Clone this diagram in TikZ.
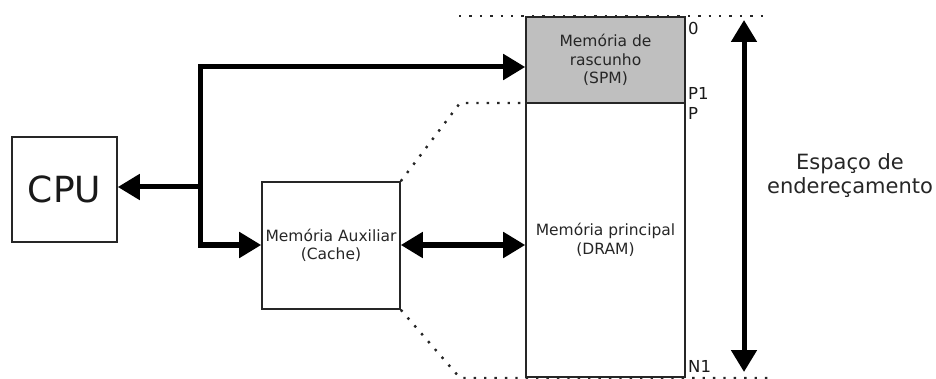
\documentclass[tikz,border=0pt]{standalone}
\usepackage{fontspec}
\setmainfont{DejaVu Sans}
\usetikzlibrary{arrows.meta,calc}
\begin{document}
\begin{tikzpicture}[x=1pt,y=-1pt,
  box/.style={draw=black!85,line width=1.6pt,inner sep=0pt,align=center,text=black!85},
  boxtext/.style={font=\fontsize{15.5}{18.5}\selectfont},
  tip/.tip={Triangle[length=22pt,width=25pt]},
  bus/.style={line width=5pt,-tip},
  dbus/.style={line width=5pt,tip-tip},
  dots/.style={line width=2.4pt,dash pattern=on 2.4pt off 8pt,black!85},
  addr/.style={font=\fontsize{16.5}{16.5}\selectfont,anchor=west,inner sep=0pt,text=black!90}
]
\useasboundingbox (0,0) rectangle (936,379);

% blocks
\node[box,minimum width=105pt,minimum height=105pt,font=\fontsize{36}{36}\selectfont,text=black!90] (cpu) at (64.5,189.5) {CPU};
\node[box,boxtext,minimum width=138pt,minimum height=127pt] (cache) at (331,245.5) {Memória Auxiliar\\(Cache)};
\node[box,boxtext,fill=black!25,minimum width=159pt,minimum height=86pt] (spm) at (605.5,60) {Memória de\\rascunho\\(SPM)};
\node[box,boxtext,minimum width=159pt,minimum height=274pt] (dram) at (605.5,240) {Memória principal\\(DRAM)};

% address labels
\node[addr] (a0) at (688,28) {0};
\node[addr] (ap1) at (688,93) {P1};
\node[addr] (ap) at (688,113) {P};
\node[addr] (an1) at (688,366) {N1};

% dotted guides
\coordinate (tl) at (459,16);
\coordinate (tr) at (770,16);
\coordinate (ml) at (460,103);
\coordinate (bl) at (460,378);
\coordinate (br) at (770,378);
\draw[dots] (tl) -- (tr);
\draw[dots] (cache.north east) -- (ml) -- (ml -| dram.west);
\draw[dots] (cache.south east) -- (bl) -- (br);

% buses
\coordinate (j) at (200,187);
\coordinate (jt) at (200,67);
\coordinate (jb) at (200,245);
\draw[line width=5pt,line cap=rect] (jt) -- (jb);
\draw[bus] (j) -- (j -| cpu.east);
\draw[bus] (jt) -- (jt -| spm.west);
\draw[bus] (jb) -- (jb -| cache.west);
\coordinate (cd) at (cache.east |- jb);
\draw[dbus] (cd) -- (cd -| dram.west);

% address space extent
\coordinate (st) at (744,20);
\coordinate (sb) at (744,372);
\draw[dbus] (st) -- (sb);
\node[font=\fontsize{21}{24}\selectfont,align=center,text=black!85] (space) at (850,176) {Espaço de\\endereçamento};
\end{tikzpicture}
\end{document}
